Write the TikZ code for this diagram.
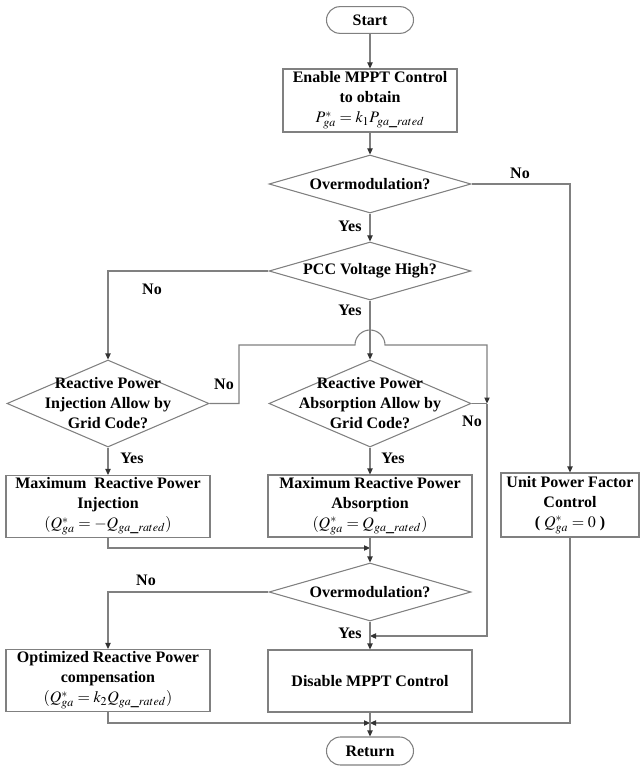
\documentclass[tikz,border=0pt]{standalone}
\usepackage{mathptmx}
\usepackage{fontspec}
\setmainfont{Liberation Serif}
\usetikzlibrary{arrows.meta, shapes.geometric}
\definecolor{linegray}{RGB}{128,128,128}
\tikzset{
  term/.style={draw=linegray, rounded corners=10pt, minimum width=65.25pt, minimum height=20pt, inner sep=0pt},
  proc/.style={draw=linegray, minimum width=153pt, minimum height=46.5pt, align=center, inner sep=1pt},
  decide/.style={draw=linegray, diamond, minimum width=151.5pt, minimum height=43.5pt, inner sep=0pt},
  flow/.style={draw=linegray, -{Triangle[length=4.5pt, width=4pt, color=black!80]}},
  line/.style={draw=linegray},
  lab/.style={inner sep=0pt}
}
\begin{document}
\begin{tikzpicture}[x=0.75pt, y=-0.75pt, line width=0.8pt, font=\fontsize{12}{15}\selectfont\bfseries]
  \useasboundingbox (0,0) rectangle (641,766);

  % Blocks
  \node[term] (start) at (370,20) {Start};
  \node[proc, minimum width=130.5pt, minimum height=47.25pt] (enable) at (370,100.5)
    {Enable MPPT Control\\ to obtain\\ $P^{*}_{ga}=k_1P_{ga\_rated}$};
  \node[decide, label={center:Overmodulation?}] (ov1) at (370,184) {};
  \node[decide, label={center:PCC Voltage High?}] (pcc) at (370,271) {};
  \node[decide, minimum height=65.25pt,
    label={[align=center]center:Reactive Power\\ Injection Allow by\\ Grid Code?}] (inj) at (108,403.5) {};
  \node[decide, minimum height=65.25pt,
    label={[align=center]center:Reactive Power\\ Absorption Allow by\\ Grid Code?}] (abs) at (370,403.5) {};
  \node[proc] (maxinj) at (108,506.5)
    {Maximum~~Reactive Power\\ Injection\\ $(Q^{*}_{ga}=-Q_{ga\_rated})$};
  \node[proc] (maxabs) at (370,506)
    {Maximum Reactive Power\\ Absorption\\ $(Q^{*}_{ga}=Q_{ga\_rated})$};
  \node[proc, minimum width=103.5pt, minimum height=48pt] (unit) at (570,505)
    {Unit Power Factor\\ Control\\ ( $Q^{*}_{ga}=0$ )};
  \node[decide, label={center:Overmodulation?}] (ov2) at (370,592) {};
  \node[proc] (disable) at (370,681) {Disable MPPT Control};
  \node[proc] (opt) at (108,680.5)
    {Optimized Reactive Power\\ compensation\\ $(Q^{*}_{ga}=k_2Q_{ga\_rated})$};
  \node[term, minimum height=21pt, rounded corners=10.5pt] (ret) at (370,751) {Return};

  % Junctions
  \coordinate (bl) at (239,345);
  \coordinate (hopa) at (355,345);
  \coordinate (br) at (487,345);
  \coordinate (jn) at (487,403.5);
  \coordinate (jm) at (370,548);
  \coordinate (jy) at (370,636);
  \coordinate (jb) at (370,723);

  % Main flow
  \draw[flow] (start) -- (enable);
  \draw[flow] (enable) -- (ov1);
  \draw[flow] (ov1.east) -| (unit.north);
  \draw[flow] (ov1) -- (pcc);
  \draw[flow] (pcc.west) -| (inj.north);
  \draw[flow] (pcc) -- (abs);
  \draw[flow] (inj) -- (maxinj);
  \draw[flow] (abs) -- (maxabs);

  % No branches with the hop
  \draw[flow] (inj.east) -| (bl) -- (hopa) arc[start angle=180, end angle=0, radius=11.25pt] -- (br) -- (jn);
  \draw[line] (abs.east) -- (jn);
  \draw[flow] (jn) |- (jy);

  % Lower part
  \draw[flow] (maxinj.south) |- (jm);
  \draw[flow] (maxabs) -- (ov2);
  \draw[flow] (ov2.west) -| (opt.north);
  \draw[flow] (ov2) -- (disable);
  \draw[flow] (opt.south) |- (jb);
  \draw[flow] (unit.south) |- (jb);
  \draw[flow] (disable) -- (ret);

  % Labels
  \node[lab] (no1) at (520,173) {No};
  \node[lab] (yes1) at (350,226) {Yes};
  \node[lab] (no2) at (152,289) {No};
  \node[lab] (yes2) at (350,310) {Yes};
  \node[lab] (no3) at (224,384) {No};
  \node[lab] (no4) at (472,421) {No};
  \node[lab] (yes3) at (132,458) {Yes};
  \node[lab] (yes4) at (393,458) {Yes};
  \node[lab] (no5) at (146,580) {No};
  \node[lab] (yes5) at (350,633) {Yes};
\end{tikzpicture}
\end{document}
